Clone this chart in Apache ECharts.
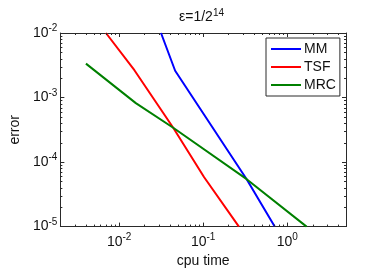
<!DOCTYPE html>
<html><head><meta charset="utf-8">
<script src="https://cdn.jsdelivr.net/npm/echarts@6/dist/echarts.min.js"></script>
<style>html,body{margin:0;padding:0;background:#fff}#c{width:382px;height:273px}</style>
</head><body><div id="c"></div>
<script>
// data (cpu time, error)
const mmTime  = [0.0315, 0.0464, 0.329, 0.709];
const mmErr   = [1.0e-2, 2.60e-3, 5.43e-5, 1.0e-5];
const tsfTime = [0.00697, 0.0152, 0.0440, 0.1027, 0.266];
const tsfErr  = [1.0e-2, 2.65e-3, 3.40e-4, 5.82e-5, 1.0e-5];
const mrcTime = [0.00403, 0.0158, 0.0440, 0.329, 1.698];
const mrcErr  = [3.35e-3, 8.19e-4, 3.40e-4, 5.43e-5, 1.0e-5];
const xMin = 0.002, xMax = 5;
const yMin = 1e-5, yMax = 1e-2;
const xMinorTicks = [0.003,0.004,0.005,0.006,0.007,0.008,0.009,0.02,0.03,0.04,0.05,0.06,0.07,0.08,0.09,0.2,0.3,0.4,0.5,0.6,0.7,0.8,0.9,2,3,4];
const yMinorTicks = [2e-5,3e-5,4e-5,5e-5,6e-5,7e-5,8e-5,9e-5,2e-4,3e-4,4e-4,5e-4,6e-4,7e-4,8e-4,9e-4,2e-3,3e-3,4e-3,5e-3,6e-3,7e-3,8e-3,9e-3];

const FONT = 'Liberation Sans, Arial, sans-serif';
const AX = '#2a2a2a';
function zip(a,b){return a.map((v,i)=>[v,b[i]]);}
function powLabel(v){
  const e = Math.round(Math.log10(v));
  if (Math.abs(v/Math.pow(10,e) - 1) > 1e-6) return '';
  return '{b|10}{s|' + e + '}';
}
const rich = {
  b:{fontSize:14, fontFamily:FONT, color:'#111'},
  s:{fontSize:10, fontFamily:FONT, color:'#111', padding:[0,0,9,0]}
};
function baseAxis(type, pos, min, max, show){
  return {
    type:'log', logBase:10, position:pos, min:min, max:max,
    axisLine:{show:true, onZero:false, lineStyle:{color:AX, width:1}},
    axisTick:{show:true, inside:true, length:4, lineStyle:{color:AX}},
    minorTick:{show:false},
    splitLine:{show:false},
    axisLabel:{show:show, formatter:powLabel, rich:rich, margin:5, showMinLabel:true, showMaxLabel:true, hideOverlap:false}
  };
}
const chart = echarts.init(document.getElementById('c'), null, {renderer:'canvas'});
const xBottom = baseAxis('x','bottom',xMin,xMax,true);
xBottom.name = 'cpu time'; xBottom.nameLocation='middle'; xBottom.nameGap=25;
xBottom.nameTextStyle = {fontSize:14, fontFamily:FONT, color:'#111'};
xBottom.axisLabel.margin = 6;
const xTop = baseAxis('x','top',xMin,xMax,false);
const yLeft = baseAxis('y','left',yMin,yMax,true);
yLeft.name='error'; yLeft.nameLocation='middle'; yLeft.nameGap=38;
yLeft.nameTextStyle = {fontSize:14, fontFamily:FONT, color:'#111'};
yLeft.axisLabel.margin = 3;
const yRight = baseAxis('y','right',yMin,yMax,false);

function minorSeries(){
  return {
    type:'custom', xAxisIndex:0, yAxisIndex:0, silent:true, clip:false, z:5,
    data:[0],
    renderItem:function(params, api){
      const cs = params.coordSys;
      const children = [];
      const st = {stroke:AX, lineWidth:1};
      xMinorTicks.forEach(v=>{
        const px = Math.round(api.coord([v, yMin])[0]) + 0.5;
        children.push({type:'line', shape:{x1:px,y1:cs.y+cs.height,x2:px,y2:cs.y+cs.height-2}, style:st});
        children.push({type:'line', shape:{x1:px,y1:cs.y,x2:px,y2:cs.y+2}, style:st});
      });
      yMinorTicks.forEach(v=>{
        const py = Math.round(api.coord([xMin, v])[1]) + 0.5;
        children.push({type:'line', shape:{x1:cs.x,y1:py,x2:cs.x+2,y2:py}, style:st});
        children.push({type:'line', shape:{x1:cs.x+cs.width,y1:py,x2:cs.x+cs.width-2,y2:py}, style:st});
      });
      return {type:'group', children:children};
    }
  };
}
chart.setOption({
  backgroundColor:'#fff',
  animation:false,
  title:{text:'ε=1/2{s|14}', left:174, top:3,
    textStyle:{fontSize:14, fontFamily:FONT, fontWeight:'normal', color:'#111', rich:{s:{fontSize:10,fontFamily:FONT,color:'#111',padding:[0,0,9,0]}}}},
  grid:{left:51, top:33, right:36, bottom:44, containLabel:false},
  legend:{
    orient:'vertical', left:266, top:38,
    data:['MM','TSF','MRC'],
    icon:'rect', itemWidth:30, itemHeight:2, itemGap:4,
    backgroundColor:'#fff', borderColor:AX, borderWidth:1, padding:[4,4,4,5],
    textStyle:{fontSize:14, fontFamily:FONT, color:'#111', padding:[0,0,0,-2]}
  },
  xAxis:[xBottom, xTop],
  yAxis:[yLeft, yRight],
  series:[
    {name:'MM', type:'line', data:zip(mmTime,mmErr), symbol:'none', lineStyle:{color:'#0000ff', width:2}, itemStyle:{color:'#0000ff'}},
    {name:'TSF', type:'line', data:zip(tsfTime,tsfErr), symbol:'none', lineStyle:{color:'#ff0000', width:2}, itemStyle:{color:'#ff0000'}},
    {name:'MRC', type:'line', data:zip(mrcTime,mrcErr), symbol:'none', lineStyle:{color:'#008000', width:2}, itemStyle:{color:'#008000'}},
    minorSeries()
  ]
});
</script></body></html>
